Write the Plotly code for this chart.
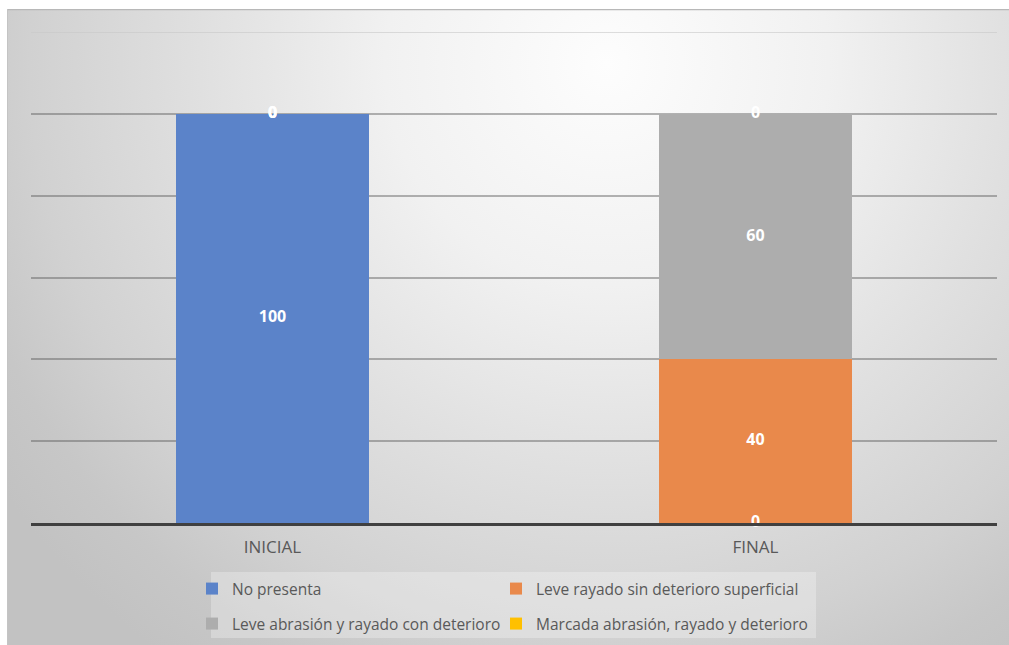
import base64
import plotly.graph_objects as go

# ---- data ----
categories = ["INICIAL", "FINAL"]
series_names = [
    "No presenta",
    "Leve rayado sin deterioro superficial",
    "Leve abrasión y rayado con deterioro",
    "Marcada abrasión, rayado y deterioro",
]
no_presenta = [100, 0]
leve_rayado = [0, 40]
leve_abrasion = [0, 60]
marcada = [0, 0]
series_values = [no_presenta, leve_rayado, leve_abrasion, marcada]
y_ticks = [20, 40, 60, 80, 100]
y_max = 120

# ---- style ----
colors = ["#5b83c9", "#e9894b", "#adadad", "#ffc000"]
W, H = 1009, 645
L, R, T, B = 31, 12, 32, 122
PW, PH = W - L - R, H - T - B
FONT = "Open Sans"

def px_x(x):
    return (x - L) / PW

def px_y(y):
    return (H - B - y) / PH

fig = go.Figure()

legend_names = ["legend", "legend2", "legend3", "legend4"]
for name, vals, col, lg in zip(series_names, series_values, colors, legend_names):
    fig.add_trace(go.Bar(
        x=categories, y=vals, name=name,
        marker=dict(color=col, line=dict(width=0)),
        legend=lg, hoverinfo="name+y",
    ))

# data labels, positioned from cumulative stack values
base = [0] * len(categories)
for vals in series_values:
    ys = [b + v / 2 for b, v in zip(base, vals)]
    fig.add_trace(go.Scatter(
        x=categories, y=ys, text=[str(v) for v in vals], mode="text",
        textposition="middle center",
        textfont=dict(family=FONT, size=16, color="white", weight="bold"),
        showlegend=False, hoverinfo="skip", cliponaxis=False,
    ))
    base = [b + v for b, v in zip(base, vals)]

# background gradient image (whole chart area)
bx0, by0, bw, bh = 7, 9, W - 7, H - 9
svg = f'''<svg xmlns="http://www.w3.org/2000/svg" width="{bw}" height="{bh}" viewBox="0 0 {bw} {bh}">
<defs><radialGradient id="g" gradientUnits="userSpaceOnUse" cx="600" cy="55" r="740">
<stop offset="0" stop-color="#fdfdfd"/>
<stop offset="0.3" stop-color="#f1f1f1"/>
<stop offset="0.55" stop-color="#e0e0e0"/>
<stop offset="0.78" stop-color="#d1d1d1"/>
<stop offset="0.9" stop-color="#c7c7c7"/>
<stop offset="1" stop-color="#c2c2c2"/>
</radialGradient></defs>
<rect x="0" y="0" width="{bw}" height="{bh}" fill="url(#g)"/>
<line x1="0" y1="0.5" x2="{bw}" y2="0.5" stroke="#b8b8b8" stroke-width="1.5"/>
<line x1="0.5" y1="0" x2="0.5" y2="{bh}" stroke="#c4c4c4" stroke-width="1"/>
</svg>'''
src = "data:image/svg+xml;base64," + base64.b64encode(svg.encode()).decode()
fig.add_layout_image(dict(
    source=src, xref="paper", yref="paper",
    x=px_x(bx0), y=px_y(by0), sizex=bw / PW, sizey=bh / PH,
    xanchor="left", yanchor="top", sizing="stretch", layer="below",
))

shapes = [
    # legend box
    dict(type="rect", xref="paper", yref="paper",
         x0=px_x(211), x1=px_x(816), y0=px_y(638), y1=px_y(572),
         fillcolor="rgba(255,255,255,0.28)", line=dict(width=0), layer="below"),
    # faint top gridline
    dict(type="line", xref="paper", yref="y", x0=0, x1=1, y0=y_max, y1=y_max,
         line=dict(color="rgba(200,200,200,0.8)", width=1.5), layer="below"),
]

leg_common = dict(bgcolor="rgba(0,0,0,0)", borderwidth=0,
                  font=dict(family=FONT, size=15.5, color="#595959"),
                  yanchor="middle", xanchor="left", itemclick=False,
                  itemdoubleclick=False, itemwidth=30)
col_x = [px_x(192), px_x(496)]
row_y = [px_y(589), px_y(624)]
fig.update_layout(
    width=W, height=H,
    margin=dict(l=L, r=R, t=T, b=B, autoexpand=False),
    paper_bgcolor="white", plot_bgcolor="rgba(0,0,0,0)",
    barmode="stack", bargap=0.6,
    font=dict(family=FONT, color="#595959"),
    shapes=shapes,
    legend=dict(x=col_x[0], y=row_y[0], **leg_common),
    legend2=dict(x=col_x[1], y=row_y[0], **leg_common),
    legend3=dict(x=col_x[0], y=row_y[1], **leg_common),
    legend4=dict(x=col_x[1], y=row_y[1], **leg_common),
    xaxis=dict(showgrid=False, ticks="", showline=True, linecolor="#404040",
               linewidth=2.5, tickfont=dict(family=FONT, size=17, color="#595959"),
               ticklabelstandoff=7, fixedrange=True),
    yaxis=dict(range=[0, y_max], tickvals=y_ticks, showticklabels=False,
               showgrid=True, gridcolor="rgba(90,90,90,0.45)", gridwidth=1.5,
               zeroline=False, showline=False, fixedrange=True),
)

fig.write_html("out.html")
